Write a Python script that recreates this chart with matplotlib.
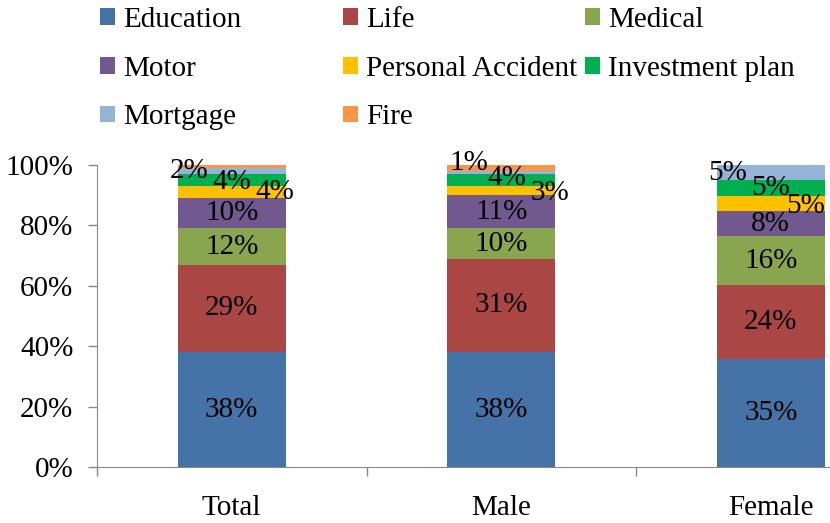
import numpy as np
import matplotlib
matplotlib.use("Agg")
import matplotlib.pyplot as plt
from matplotlib.patches import Patch
from matplotlib.font_manager import FontProperties

plt.rcParams['font.family'] = ['Liberation Serif', 'DejaVu Serif']

groups = ["Total", "Male", "Female"]
series = ["Education", "Life", "Medical", "Motor", "Personal Accident",
          "Investment plan", "Mortgage", "Fire"]
colors = ["#4572A7", "#AA4643", "#89A54E", "#71588F", "#FFC000",
          "#00B050", "#95B3D7", "#F79646"]

education = [38, 38, 35]
life = [29, 31, 24]
medical = [12, 10, 16]
motor = [10, 11, 8]
personal_accident = [4, 3, 5]
investment = [4, 4, 5]
mortgage = [2, 1, 5]
fire = [1, 2, 0]

values = np.array([education, life, medical, motor, personal_accident,
                   investment, mortgage, fire], dtype=float)
# 100% stacked columns
shares = values / values.sum(axis=0) * 100

# the small top labels were pushed sideways in the original
label_dx = {4: [0.16, 0.18, 0.13], 5: [0.0, 0.02, 0.0], 6: [-0.16, -0.12, -0.16]}
label_dy = {4: [0, -0.8, -0.8], 5: [-0.6, 0.7, 0], 6: [0, 3.2, 0]}

fs = 21
font = FontProperties(family=['Liberation Serif', 'DejaVu Serif'], size=fs)

fig = plt.figure(figsize=(8.3, 5.23), dpi=100)
ax = fig.add_axes([97 / 830, 56 / 523, 808.5 / 830, 302 / 523])

x = np.arange(len(groups))
bottom = np.zeros(len(groups))
for i, name in enumerate(series):
    ax.bar(x, shares[i], 0.4, bottom=bottom, color=colors[i], label=name)
    if i < 7:
        for j in range(len(groups)):
            if values[i, j] == 0:
                continue
            cx = x[j] + label_dx.get(i, [0, 0, 0])[j]
            cy = bottom[j] + shares[i, j] / 2 + label_dy.get(i, [0, 0, 0])[j]
            ax.text(cx, cy, "{:.0f}%".format(values[i, j]), ha="center",
                    va="center", fontproperties=font, color="black")
    bottom += shares[i]

ax.set_xlim(-0.5, 2.5)
ax.set_ylim(0, 100)
ax.set_yticks(range(0, 101, 20))
ax.set_yticklabels(["{}%".format(v) for v in range(0, 101, 20)], fontproperties=font)
ax.tick_params(axis="y", length=6.5, width=1, color="#888888", pad=10.5)

ax.set_xticks([-0.5, 0.5, 1.5, 2.5])
ax.set_xticklabels([])
ax.tick_params(axis="x", which="major", length=6.5, width=1, color="#888888")
ax.set_xticks(x, minor=True)
ax.set_xticklabels(groups, minor=True, fontproperties=font)
ax.tick_params(axis="x", which="minor", length=0, pad=20)

for s in ["top", "right"]:
    ax.spines[s].set_visible(False)
for s in ["left", "bottom"]:
    ax.spines[s].set_color("#888888")

# legend laid out as three columns, filled row by row
cols = [[0, 3, 6], [1, 4, 7], [2, 5]]
col_x = [100, 343, 585]
for c, idx in enumerate(cols):
    handles = [Patch(facecolor=colors[k], edgecolor="none") for k in idx]
    fig.legend(handles, [series[k] for k in idx], loc="upper left",
               bbox_to_anchor=(col_x[c] / 830, 1 - 7 / 523), frameon=False,
               prop=font, handlelength=0.5, handleheight=0.5,
               handletextpad=0.3, labelspacing=0.78, borderpad=0,
               borderaxespad=0)

fig.savefig("out.png", dpi=100)
